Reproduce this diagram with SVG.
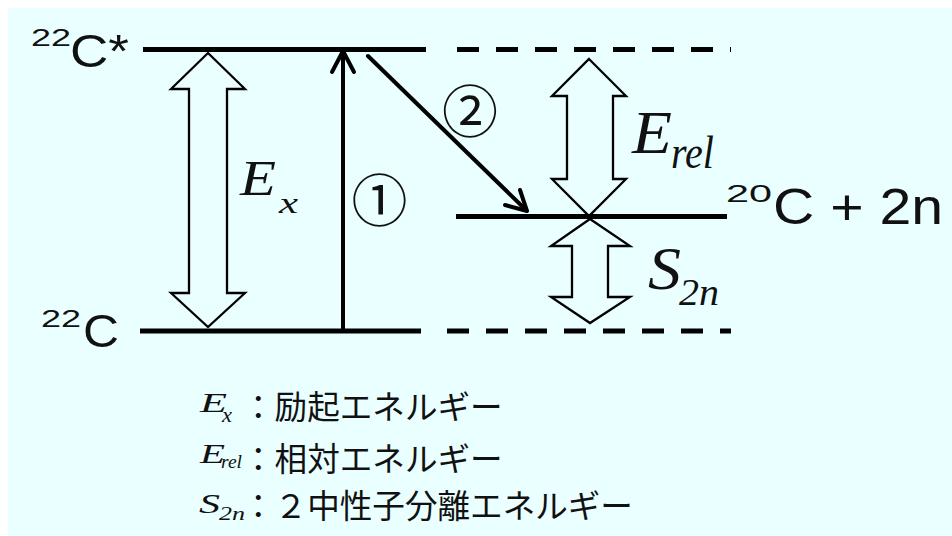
<svg xmlns="http://www.w3.org/2000/svg" width="952" height="536" viewBox="0 0 952 536">
<style>
.lvl{stroke:#000;stroke-width:5;fill:none}
.dash{stroke:#000;stroke-width:5;fill:none;stroke-dasharray:22 17}
.big{stroke:#000;stroke-width:2.3;fill:none;stroke-linejoin:miter}
.conn{stroke:#000;stroke-width:4;fill:none;stroke-linecap:round;stroke-linejoin:round}
.sans{font-family:"Liberation Sans",Arial,sans-serif;fill:#111}
.ital{font-family:"Liberation Serif","Times New Roman",serif;font-style:italic;fill:#111}
.cjk{font-family:"Noto Sans CJK JP","Noto Sans CJK SC",sans-serif;fill:#111}
</style>
<rect x="8" y="8" width="944" height="528" fill="#eaffff"/>

<g id="level-22C-star">
<line class="lvl" x1="143" y1="49.5" x2="426" y2="49.5"/>
<line class="dash" x1="457" y1="49.5" x2="731" y2="49.5"/>
<text class="sans" x="31" y="46" font-size="24" textLength="40" lengthAdjust="spacingAndGlyphs">22</text>
<text class="sans" x="70" y="67" font-size="47" textLength="59" lengthAdjust="spacingAndGlyphs">C*</text>
</g>

<g id="level-22C">
<line class="lvl" x1="140" y1="331" x2="421" y2="331"/>
<line class="dash" x1="447" y1="331" x2="731" y2="331"/>
<text class="sans" x="41" y="327" font-size="24" textLength="40" lengthAdjust="spacingAndGlyphs">22</text>
<text class="sans" x="83" y="347" font-size="47" textLength="36" lengthAdjust="spacingAndGlyphs">C</text>
</g>

<g id="level-20C-2n">
<line class="lvl" x1="456" y1="216.5" x2="727" y2="216.5" stroke-width="4.5"/>
<text class="sans" x="726" y="202" font-size="24" textLength="46" lengthAdjust="spacingAndGlyphs">20</text>
<text class="sans" x="773" y="224" font-size="50" textLength="170" lengthAdjust="spacingAndGlyphs">C + 2n</text>
</g>

<g id="arrow-Ex">
<polygon class="big" points="208,53 245,89 227,89 227,293 245,293 208,327 171,293 189,293 189,89 171,89"/>
<text class="ital" x="240" y="195" font-size="50" textLength="36" lengthAdjust="spacingAndGlyphs">E</text>
<text class="ital" x="279" y="213" font-size="29" textLength="19" lengthAdjust="spacingAndGlyphs">x</text>
</g>

<g id="arrow-Erel">
<polygon class="big" points="589,59 626,96 613,96 613,179 626,179 589,216 552,179 567,179 567,96 552,96"/>
<text class="ital" x="632" y="153" font-size="62" textLength="40" lengthAdjust="spacingAndGlyphs">E</text>
<text class="ital" x="671" y="168" font-size="46" textLength="43" lengthAdjust="spacingAndGlyphs">rel</text>
</g>

<g id="arrow-S2n">
<polygon class="big" points="590,219 630,246 608,246 608,297 630,297 590,323 551,297 572,297 572,246 551,246"/>
<text class="ital" x="648" y="289" font-size="62" textLength="33" lengthAdjust="spacingAndGlyphs">S</text>
<text class="ital" x="679" y="305" font-size="37" textLength="40" lengthAdjust="spacingAndGlyphs">2n</text>
</g>

<g id="connectors">
<g id="transition-1">
<line class="conn" x1="343" y1="331" x2="343" y2="51"/>
<polyline class="conn" points="332,72 343,51 354,72"/>
</g>
<g id="transition-2">
<line class="conn" x1="368" y1="56" x2="526" y2="210"/>
<polyline class="conn" points="520,190 527,211 505,205"/>
</g>
</g>

<g id="step-labels">
<text class="cjk" x="379.5" y="220.5" font-size="56" text-anchor="middle">①</text>
<text class="cjk" x="470" y="132" font-size="56" text-anchor="middle">②</text>
</g>

<g id="legend">
<text class="ital" x="200" y="412" font-size="28" textLength="27" lengthAdjust="spacingAndGlyphs">E</text>
<text class="ital" x="222" y="422" font-size="20" textLength="10" lengthAdjust="spacingAndGlyphs">x</text>
<text class="cjk" x="242" y="419" font-size="32.6">：励起エネルギー</text>
<text class="ital" x="200" y="463" font-size="28" textLength="25" lengthAdjust="spacingAndGlyphs">E</text>
<text class="ital" x="221" y="468" font-size="19" textLength="21" lengthAdjust="spacingAndGlyphs">rel</text>
<text class="cjk" x="242" y="471" font-size="32.6">：相対エネルギー</text>
<text class="ital" x="199" y="513" font-size="28" textLength="21" lengthAdjust="spacingAndGlyphs">S</text>
<text class="ital" x="219" y="520" font-size="19" textLength="26" lengthAdjust="spacingAndGlyphs">2n</text>
<text class="cjk" x="242" y="518" font-size="32.6">：２中性子分離エネルギー</text>
</g>
</svg>
